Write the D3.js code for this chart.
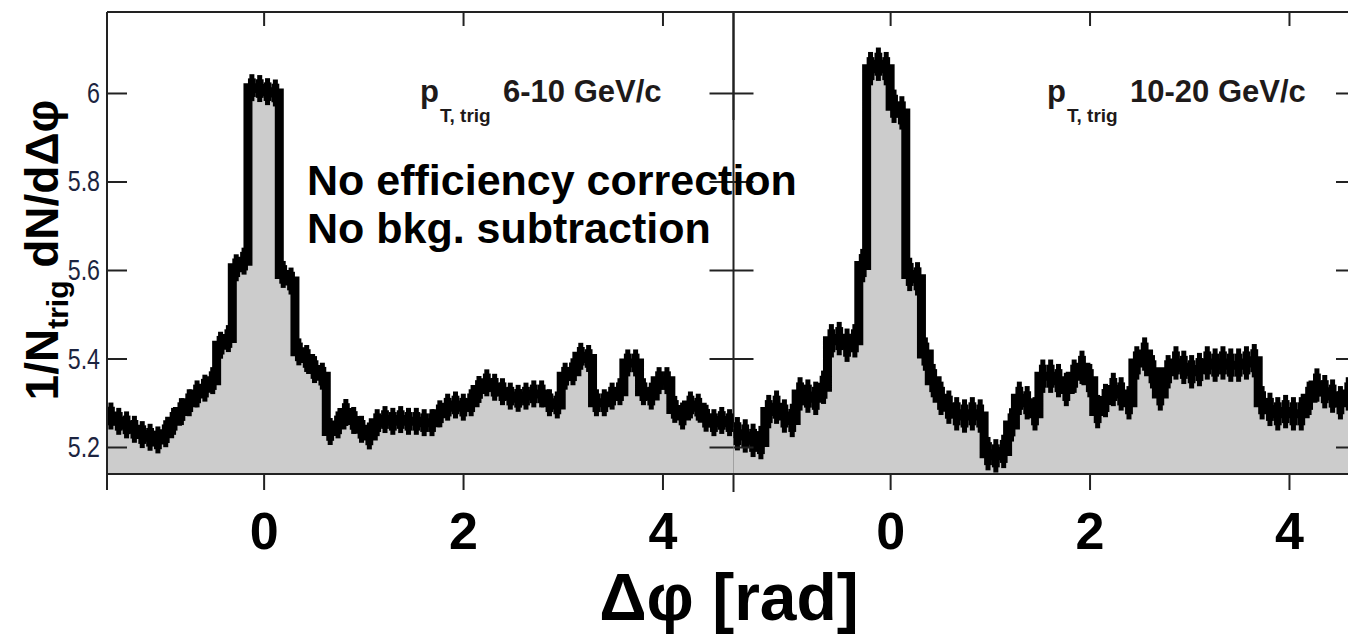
<!DOCTYPE html>
<html lang="en">
<head>
<meta charset="UTF-8">
<title>dphi correlation</title>
<script src="https://cdn.jsdelivr.net/npm/d3@7"></script>
<style>
    html, body { margin: 0; padding: 0; background: #fff; }
    svg { display: block; }
</style>
</head>
<body>
<script>
    // per-bin values, 80 bins from -pi/2 to 3pi/2
    const leftBins = [
        5.27, 5.258, 5.25, 5.24, 5.228, 5.222, 5.216, 5.23, 5.258, 5.28,
        5.30, 5.32, 5.333, 5.35, 5.43, 5.445, 5.605, 5.62, 6.012, 6.01,
        6.003, 6.0, 5.59, 5.575, 5.415, 5.40, 5.375, 5.36, 5.235, 5.25,
        5.278, 5.26, 5.24, 5.225, 5.255, 5.262, 5.258, 5.262, 5.258, 5.258,
        5.255, 5.255, 5.275, 5.29, 5.295, 5.29, 5.30, 5.33, 5.345, 5.335,
        5.325, 5.315, 5.31, 5.315, 5.32, 5.32, 5.30, 5.295, 5.36, 5.37,
        5.405, 5.40, 5.30, 5.30, 5.315, 5.325, 5.39, 5.39, 5.325, 5.315,
        5.35, 5.35, 5.285, 5.27, 5.295, 5.29, 5.265, 5.255, 5.26, 5.255
    ]
    const rightBins = [
        5.23, 5.225, 5.215, 5.21, 5.28, 5.29, 5.27, 5.26, 5.32, 5.315,
        5.31, 5.335, 5.44, 5.445, 5.43, 5.44, 5.61, 6.055, 6.065, 6.055,
        5.97, 5.955, 5.59, 5.58, 5.41, 5.35, 5.31, 5.29, 5.275, 5.27,
        5.275, 5.27, 5.185, 5.18, 5.19, 5.25, 5.31, 5.30, 5.275, 5.36,
        5.36, 5.35, 5.33, 5.36, 5.38, 5.35, 5.28, 5.305, 5.33, 5.32,
        5.30, 5.39, 5.41, 5.37, 5.32, 5.37, 5.39, 5.38, 5.37, 5.375,
        5.39, 5.385, 5.39, 5.385, 5.385, 5.39, 5.395, 5.30, 5.285, 5.275,
        5.28, 5.275, 5.275, 5.31, 5.34, 5.325, 5.315, 5.30, 5.32, 5.32
    ]
    const leftErr = 0.021
    const rightErr = 0.026
    const xTicks = [0, 2, 4]
    const yTicks = [5.2, 5.4, 5.6, 5.8, 6]
    const ptRanges = ['6-10 GeV/c', '10-20 GeV/c']

    const [width, height] = [1348, 634]
    const [plotTop, plotBottom] = [12, 474]
    const sans = '"Liberation Sans", Arial, sans-serif'

    const svg = d3.select('body').append('svg')
        .attr('width', width)
        .attr('height', height)

    const y = d3.scaleLinear()
        .domain([5.139, 6.183])
        .range([plotBottom, plotTop])

    const panels = [
        {x0: 107, x1: 733.5, bins: leftBins, err: leftErr, label: ptRanges[0], lx: 420},
        {x0: 733.5, x1: 1360, bins: rightBins, err: rightErr, label: ptRanges[1], lx: 1047}
    ]

    // divider under the fill
    svg.append('line')
        .attr('x1', 733.5).attr('x2', 733.5).attr('y1', plotTop).attr('y2', 492)
        .attr('stroke', '#222').attr('stroke-width', 2)

    panels.forEach(p => {
        const x = d3.scaleLinear()
            .domain([-Math.PI / 2, 3 * Math.PI / 2])
            .range([p.x0, p.x1])
        const w = 2 * Math.PI / p.bins.length
        const bw = x(w) - x(0)
        const pts = p.bins.map((v, i) => ({e: -Math.PI / 2 + i * w, v}))
        pts.push({e: 3 * Math.PI / 2, v: p.bins[p.bins.length - 1]})

        const area = d3.area()
            .x(d => x(d.e))
            .y0(plotBottom)
            .y1(d => y(d.v))
            .curve(d3.curveStepAfter)
        const line = d3.line()
            .x(d => x(d.e))
            .y(d => y(d.v))
            .curve(d3.curveStepAfter)

        const g = svg.append('g')
        g.append('path').attr('d', area(pts)).attr('fill', '#cccccc')
        // error boxes
        g.selectAll('rect.err').data(p.bins).enter()
            .append('rect').attr('class', 'err')
            .attr('x', (d, i) => x(-Math.PI / 2 + i * w))
            .attr('width', bw)
            .attr('y', d => y(d + p.err))
            .attr('height', d => y(d - p.err) - y(d + p.err))
            .attr('fill', '#000')
        // error bars
        g.selectAll('rect.bar').data(p.bins).enter()
            .append('rect').attr('class', 'bar')
            .attr('x', (d, i) => x(-Math.PI / 2 + i * w) + bw / 2 - 2.5)
            .attr('width', 5)
            .attr('y', d => y(d + p.err * 1.45))
            .attr('height', d => y(d - p.err * 1.45) - y(d + p.err * 1.45))
            .attr('fill', '#000')
        g.append('path').attr('d', line(pts))
            .attr('fill', 'none')
            .attr('stroke', '#000')
            .attr('stroke-width', 9)

        // top ticks (inside), bottom ticks (outside)
        svg.append('g').attr('transform', `translate(0,${plotTop})`)
            .call(d3.axisBottom(x).tickValues(xTicks).tickSize(14).tickFormat(''))
            .call(a => a.select('.domain').remove())
        svg.append('g').attr('transform', `translate(0,${plotBottom})`)
            .call(d3.axisBottom(x).tickValues(xTicks).tickSize(16).tickPadding(22).tickFormat(d3.format('d')))
            .call(a => a.select('.domain').remove())
            .call(a => a.selectAll('text')
                .attr('fill', '#000')
                .style('font', `bold 52px ${sans}`))

        // y ticks on both sides of the panel
        svg.append('g').attr('transform', `translate(${p.x0},0)`)
            .call(d3.axisRight(y).tickValues(yTicks).tickSize(20).tickFormat(''))
            .call(a => a.select('.domain').remove())
        svg.append('g').attr('transform', `translate(${p.x1},0)`)
            .call(d3.axisLeft(y).tickValues(yTicks).tickSize(24).tickFormat(''))
            .call(a => a.select('.domain').remove())

        // p_T,trig label
        const lab = svg.append('g').attr('fill', '#1e1a1a').style('font-family', sans).style('font-weight', 'bold')
        lab.append('text').attr('x', p.lx).attr('y', 102).style('font-size', '31px').text('p')
        lab.append('text').attr('x', p.lx + 20).attr('y', 122).style('font-size', '19px').text('T, trig')
        lab.append('text').attr('x', p.lx + 83).attr('y', 102).style('font-size', '31px').text(p.label)
    })

    svg.selectAll('.tick line').attr('stroke', '#222').attr('stroke-width', 2)

    // frame
    svg.append('line').attr('x1', 107).attr('x2', width).attr('y1', plotTop).attr('y2', plotTop)
        .attr('stroke', '#222').attr('stroke-width', 2)
    svg.append('line').attr('x1', 107).attr('x2', width).attr('y1', plotBottom).attr('y2', plotBottom)
        .attr('stroke', '#222').attr('stroke-width', 2)
    svg.append('line').attr('x1', 107).attr('x2', 107).attr('y1', plotTop).attr('y2', 490)
        .attr('stroke', '#222').attr('stroke-width', 2)
    svg.append('line').attr('x1', 733.5).attr('x2', 733.5).attr('y1', plotTop).attr('y2', 120)
        .attr('stroke', '#222').attr('stroke-width', 2)

    // y tick labels, narrow
    svg.selectAll('text.ylab').data(yTicks).enter()
        .append('text').attr('class', 'ylab')
        .attr('transform', d => `translate(100,${y(d) + 10}) scale(0.8,1)`)
        .attr('text-anchor', 'end')
        .attr('fill', '#1c2440')
        .style('font', `29px ${sans}`)
        .text(d => d3.format('~g')(d))

    // axis titles
    const yl = svg.append('text')
        .attr('transform', 'translate(58,250) rotate(-90)')
        .attr('text-anchor', 'middle')
        .style('font', `bold 46px ${sans}`)
    yl.append('tspan').text('1/N')
    yl.append('tspan').attr('dy', 10).style('font-size', '30px').text('trig')
    yl.append('tspan').attr('dy', -10).text(' dN/dΔφ')

    svg.append('text')
        .attr('x', 729).attr('y', 620)
        .attr('text-anchor', 'middle')
        .style('font', `bold 66px ${sans}`)
        .text('Δφ [rad]')

    const note = svg.append('text')
        .style('font', `bold 43px ${sans}`)
    note.append('tspan').attr('x', 307).attr('y', 195).text('No efficiency correction')
    note.append('tspan').attr('x', 307).attr('y', 243).text('No bkg. subtraction')
</script>
</body>
</html>
